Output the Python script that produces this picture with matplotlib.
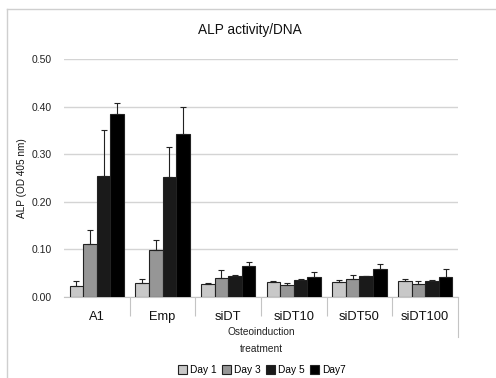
import matplotlib
matplotlib.use("Agg")
import matplotlib.pyplot as plt
import numpy as np
from matplotlib.lines import Line2D

plt.rcParams['font.family'] = ['Liberation Sans', 'DejaVu Sans']

categories = ["A1", "Emp", "siDT", "siDT10", "siDT50", "siDT100"]
series = ["Day 1", "Day 3", "Day 5", "Day7"]
day1 = [0.024, 0.029, 0.027, 0.031, 0.031, 0.034]
day3 = [0.111, 0.099, 0.040, 0.025, 0.038, 0.027]
day5 = [0.255, 0.252, 0.045, 0.036, 0.044, 0.033]
day7 = [0.385, 0.342, 0.066, 0.041, 0.059, 0.042]
err1 = [0.009, 0.009, 0.002, 0.003, 0.005, 0.004]
err3 = [0.030, 0.020, 0.016, 0.004, 0.008, 0.006]
err5 = [0.096, 0.063, 0.002, 0.001, 0.001, 0.003]
err7 = [0.023, 0.057, 0.007, 0.012, 0.011, 0.017]
yticks = [0.0, 0.1, 0.2, 0.3, 0.4, 0.5]

values = [day1, day3, day5, day7]
errors = [err1, err3, err5, err7]
colors = ["#c8c8c8", "#969696", "#1a1a1a", "#000000"]

W, H = 496, 378
fig = plt.figure(figsize=(W / 100, H / 100), dpi=100)
ax = fig.add_axes([64 / W, 1 - 297 / H, (458 - 64) / W, (297 - 59) / H])

x = np.arange(len(categories))
bw = 0.208
for i, (vals, errs, c) in enumerate(zip(values, errors, colors)):
    pos = x + (i - 1.5) * bw
    ax.bar(pos, vals, width=bw, color=c, edgecolor="#222222", linewidth=0.8,
           yerr=[np.zeros(len(errs)), errs], capsize=2.2,
           error_kw=dict(ecolor="#222222", elinewidth=0.8, capthick=0.8),
           label=series[i], zorder=3)

ax.set_xlim(-0.5, len(categories) - 0.5)
ax.set_ylim(0, 0.5)
ax.set_yticks(yticks)
ax.set_yticklabels([f"{v:.2f}" for v in yticks], fontsize=7.5, color="#222222")
ax.tick_params(axis="y", length=0, pad=8.5)
ax.yaxis.grid(True, color="#d4d4d4", linewidth=1.0, zorder=0)
ax.set_axisbelow(True)

ax.set_xticks(x)
ax.set_xticklabels(categories, fontsize=9.3, color="#111111")
ax.tick_params(axis="x", which="major", length=0, pad=10)
ax.set_xticks(np.arange(len(categories) - 1) + 0.5, minor=True)
ax.tick_params(axis="x", which="minor", length=14, color="#c4c4c4", width=0.8)

for s in ["top", "right", "left"]:
    ax.spines[s].set_visible(False)
ax.spines["bottom"].set_color("#c4c4c4")

# right end separator (longer)
ax.add_line(Line2D([len(categories) - 0.5] * 2, [0, -40 / 238],
                   transform=ax.get_xaxis_transform(), color="#c4c4c4",
                   linewidth=0.8, clip_on=False))

fig.text(250 / W, 1 - 30 / H, "ALP activity/DNA", fontsize=9.8, ha="center",
         va="center", color="#111111")
fig.text(22 / W, 1 - 178 / H, "ALP (OD 405 nm)", fontsize=7.2, rotation=90,
         ha="center", va="center", color="#111111")
fig.text(261 / W, 1 - 332 / H, "Osteoinduction", fontsize=7.3, ha="center",
         va="center", color="#222222")
fig.text(261 / W, 1 - 349 / H, "treatment", fontsize=7.3, ha="center",
         va="center", color="#222222")

fig.legend(loc="center", bbox_to_anchor=(262 / W, 1 - 370 / H), ncol=4,
           frameon=False, fontsize=7.3, handlelength=0.9, handleheight=0.9,
           handletextpad=0.3, columnspacing=0.5, borderpad=0)

# chart border (top and left)
fig.add_artist(Line2D([7 / W, 1], [1 - 9 / H] * 2, transform=fig.transFigure,
                      color="#cfcfcf", linewidth=1))
fig.add_artist(Line2D([7 / W] * 2, [0, 1 - 9 / H], transform=fig.transFigure,
                      color="#cfcfcf", linewidth=1))

fig.savefig("out.png", dpi=100)
